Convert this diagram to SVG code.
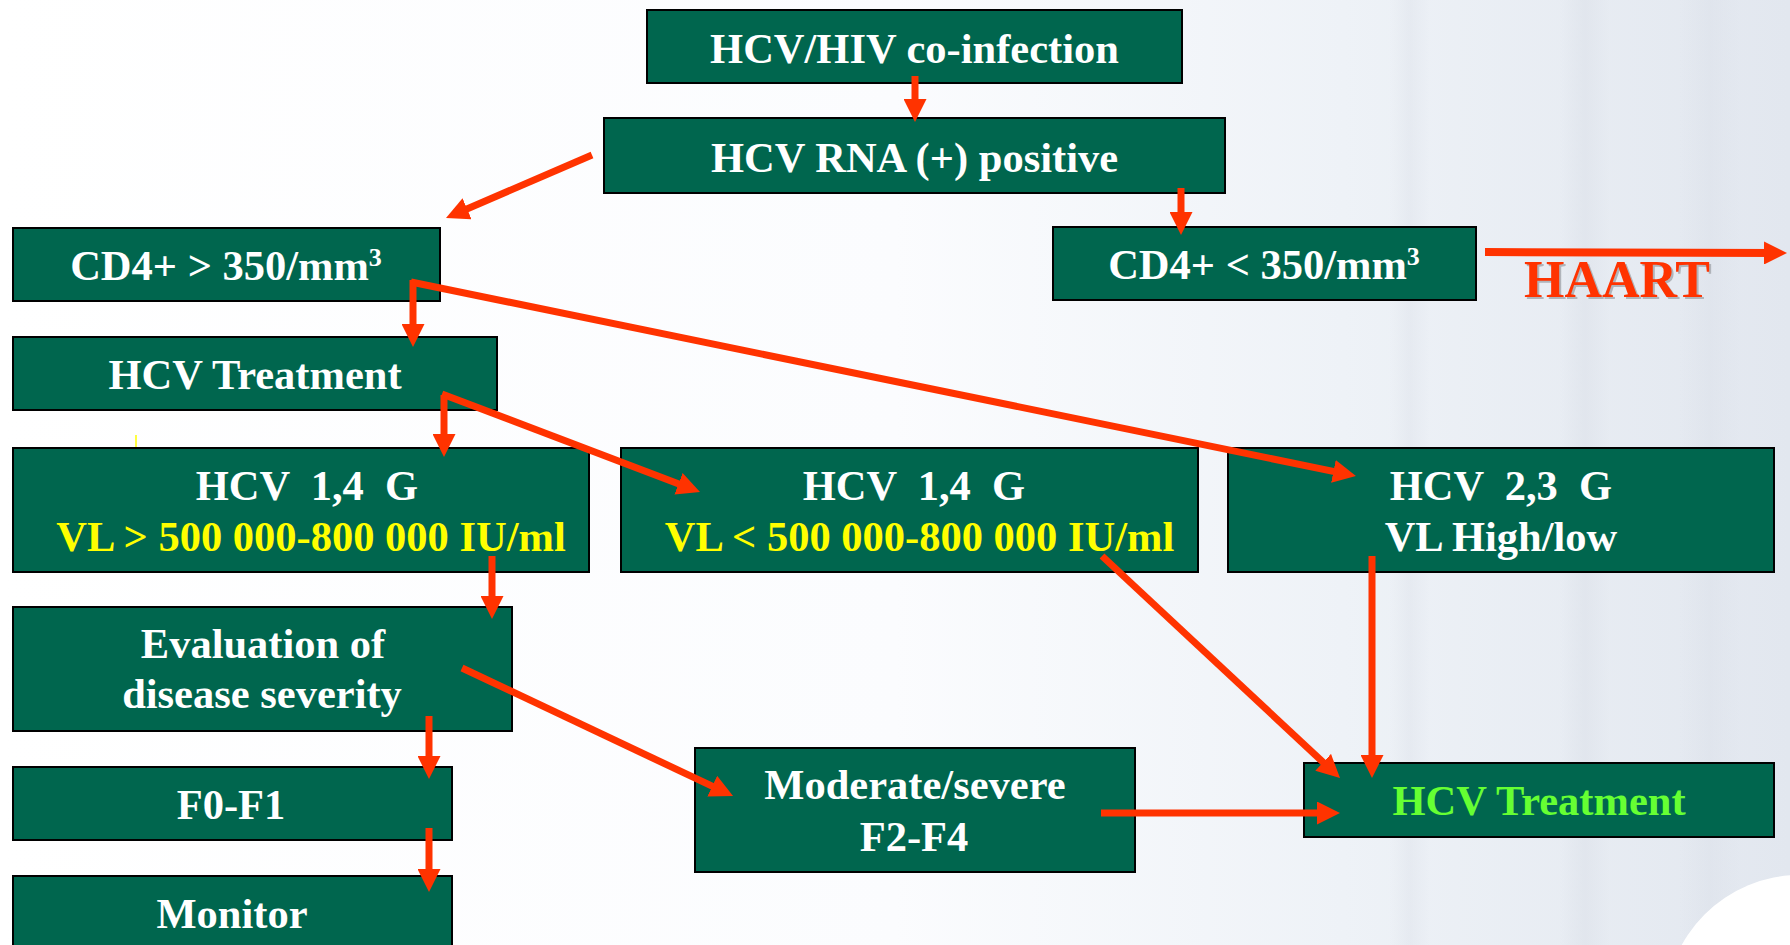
<svg xmlns="http://www.w3.org/2000/svg" width="1790" height="945" viewBox="0 0 1790 945">
  <defs>
    <linearGradient id="bg" x1="0" y1="0" x2="1" y2="0">
      <stop offset="0" stop-color="#ffffff"/>
      <stop offset="0.5" stop-color="#fbfcfe"/>
      <stop offset="0.75" stop-color="#eef2f7"/>
      <stop offset="1" stop-color="#e2e7ef"/>
    </linearGradient>
    <linearGradient id="band" x1="0" y1="0" x2="1" y2="0">
      <stop offset="0" stop-color="#d6dbe4" stop-opacity="0"/>
      <stop offset="0.5" stop-color="#d6dbe4" stop-opacity="0.6"/>
      <stop offset="1" stop-color="#d6dbe4" stop-opacity="0"/>
    </linearGradient>
    <marker id="ah" markerUnits="userSpaceOnUse" markerWidth="23" markerHeight="23" refX="11" refY="11.5" orient="auto">
      <path d="M0,0 L23,11.5 L0,23 Z" fill="#ff3300"/>
    </marker>
    <style>
      .box { fill: #00664e; stroke: #000000; stroke-width: 2; }
      .t { font-family: "Liberation Serif", "Times New Roman", serif; font-weight: bold; font-size: 42.5px; text-anchor: middle; fill: #ffffff; }
      .y { fill: #ffff00; }
      .g { fill: #66ff33; }
      .c { fill: none; stroke: #ff3300; stroke-width: 7; marker-end: url(#ah); }
      .h { font-family: "Liberation Serif", "Times New Roman", serif; font-weight: bold; font-size: 52px; text-anchor: middle; }
    </style>
  </defs>

  <g id="background">
    <rect x="0" y="0" width="1790" height="945" fill="url(#bg)"/>
    <rect x="1390" y="0" width="40" height="945" fill="url(#band)" opacity="0.5"/>
    <rect x="1560" y="0" width="50" height="945" fill="url(#band)" opacity="0.6"/>
    <rect x="1680" y="0" width="60" height="945" fill="url(#band)" opacity="0.5"/>
    <circle cx="1800" cy="1010" r="135" fill="#ffffff"/>
    <line x1="136" y1="435" x2="136" y2="447" stroke="#ffff00" stroke-width="1.5"/>
  </g>

  <g id="n-coinfection">
    <rect class="box" x="647" y="10" width="535" height="73"/>
    <text class="t" x="914.5" y="63">HCV/HIV co-infection</text>
  </g>
  <g id="n-rna">
    <rect class="box" x="604" y="118" width="621" height="75"/>
    <text class="t" x="914.5" y="172">HCV RNA (+) positive</text>
  </g>
  <g id="n-cd4-high">
    <rect class="box" x="13" y="228" width="427" height="73"/>
    <text class="t" x="226" y="280">CD4+ &gt; 350/mm<tspan font-size="26" dy="-14">3</tspan></text>
  </g>
  <g id="n-cd4-low">
    <rect class="box" x="1053" y="227" width="423" height="73"/>
    <text class="t" x="1264" y="279">CD4+ &lt; 350/mm<tspan font-size="26" dy="-14">3</tspan></text>
  </g>
  <g id="n-treatment1">
    <rect class="box" x="13" y="337" width="484" height="73"/>
    <text class="t" x="255" y="389">HCV Treatment</text>
  </g>
  <g id="n-g14-high">
    <rect class="box" x="13" y="448" width="576" height="124"/>
    <text class="t" x="307" y="500" xml:space="preserve">HCV  1,4  G</text>
    <text class="t y" x="311" y="551">VL &gt; 500 000-800 000 IU/ml</text>
  </g>
  <g id="n-g14-low">
    <rect class="box" x="621" y="448" width="577" height="124"/>
    <text class="t" x="914" y="500" xml:space="preserve">HCV  1,4  G</text>
    <text class="t y" x="919.5" y="551">VL &lt; 500 000-800 000 IU/ml</text>
  </g>
  <g id="n-g23">
    <rect class="box" x="1228" y="448" width="546" height="124"/>
    <text class="t" x="1501" y="500" xml:space="preserve">HCV  2,3  G</text>
    <text class="t" x="1501" y="551">VL High/low</text>
  </g>
  <g id="n-evaluation">
    <rect class="box" x="13" y="607" width="499" height="124"/>
    <text class="t" x="263" y="658">Evaluation of</text>
    <text class="t" x="262" y="708">disease severity</text>
  </g>
  <g id="n-f0f1">
    <rect class="box" x="13" y="767" width="439" height="73"/>
    <text class="t" x="231" y="819">F0-F1</text>
  </g>
  <g id="n-monitor">
    <rect class="box" x="13" y="876" width="439" height="80"/>
    <text class="t" x="232" y="928">Monitor</text>
  </g>
  <g id="n-moderate">
    <rect class="box" x="695" y="748" width="440" height="124"/>
    <text class="t" x="915" y="799">Moderate/severe</text>
    <text class="t" x="914" y="851">F2-F4</text>
  </g>
  <g id="n-treatment2">
    <rect class="box" x="1304" y="763" width="470" height="74"/>
    <text class="t g" x="1539" y="815">HCV Treatment</text>
  </g>

  <g id="connectors">
    <line class="c" x1="915" y1="76" x2="915" y2="110"/>
    <line class="c" x1="592" y1="155" x2="457" y2="213.2"/>
    <line class="c" x1="1181" y1="188" x2="1181" y2="223"/>
    <line class="c" x1="1485" y1="252" x2="1775" y2="253" style="stroke-width:8"/>
    <line class="c" x1="413" y1="280" x2="413" y2="335"/>
    <line class="c" x1="411" y1="282" x2="1344.2" y2="473.6"/>
    <line class="c" x1="444" y1="395" x2="444" y2="445"/>
    <line class="c" x1="442" y1="394" x2="688.8" y2="487.7"/>
    <line class="c" x1="492" y1="556" x2="492" y2="607"/>
    <line class="c" x1="1102" y1="556" x2="1331.2" y2="769.8"/>
    <line class="c" x1="1372" y1="556" x2="1372" y2="766"/>
    <line class="c" x1="462" y1="668" x2="722.2" y2="790.9"/>
    <line class="c" x1="1101" y1="813" x2="1328" y2="813"/>
    <line class="c" x1="429" y1="716" x2="429" y2="767"/>
    <line class="c" x1="429" y1="828" x2="429" y2="880"/>
    <g id="haart-label">
      <text class="h" x="1619" y="299" fill="#b0b4ba">HAART</text>
      <text class="h" x="1617" y="297" fill="#ff3300">HAART</text>
    </g>
  </g>
</svg>
